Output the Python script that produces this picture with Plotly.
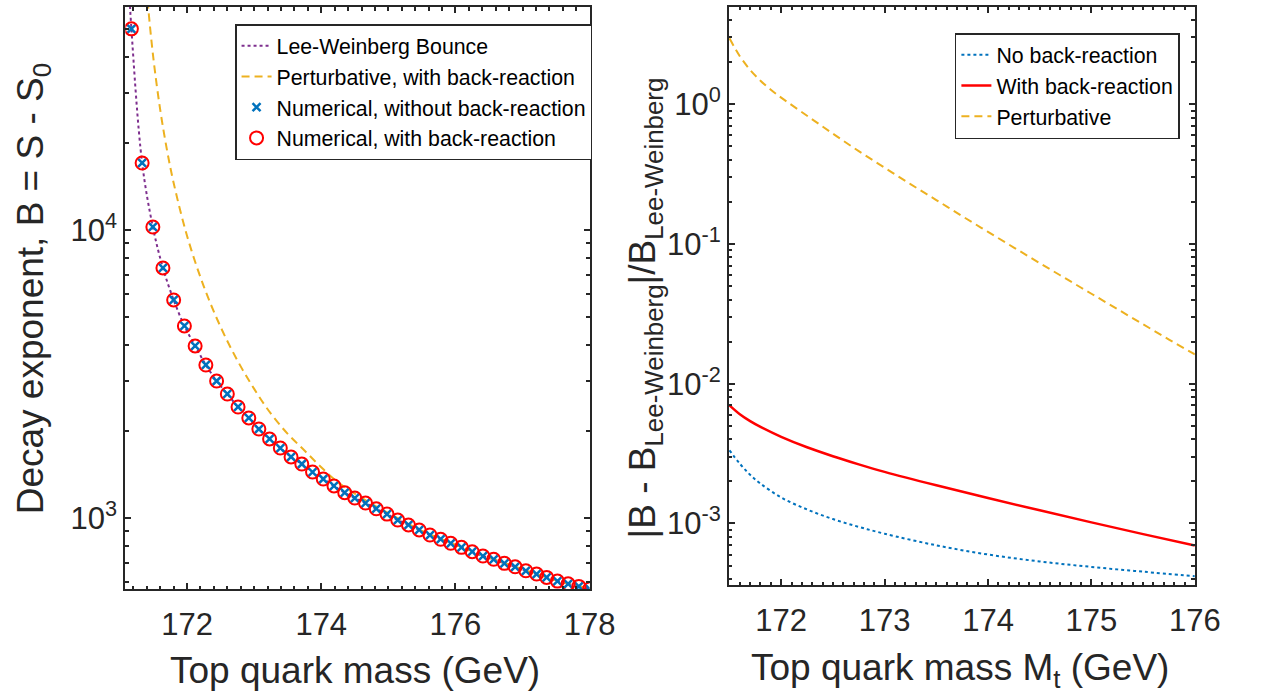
import plotly.graph_objects as go
import math

W, H = 1261, 694
F = "Liberation Sans, Arial, Helvetica, sans-serif"
AX = "#262626"

# ---------------- Left panel data ----------------
mass_num = [171.17, 171.33, 171.49, 171.64, 171.80, 171.96, 172.12, 172.28, 172.44, 172.60,
            172.76, 172.92, 173.07, 173.23, 173.39, 173.55, 173.71, 173.87, 174.03, 174.19,
            174.35, 174.50, 174.66, 174.82, 174.98, 175.14, 175.30, 175.46, 175.62, 175.78,
            175.93, 176.09, 176.25, 176.41, 176.57, 176.73, 176.89, 177.05, 177.21, 177.36,
            177.52, 177.68, 177.84, 178.00]
B_no_br = [49900, 17080, 10240, 7380, 5715, 4642, 3957, 3398, 2990, 2695,
           2429, 2225, 2037, 1881, 1750, 1629, 1540, 1444, 1366, 1292,
           1224, 1173, 1127, 1077, 1032, 984, 946, 909, 873, 844,
           817, 791, 764, 738, 719, 696, 677, 656, 639, 622,
           604, 591, 579, 567]
B_with_br = [49900, 17080, 10240, 7380, 5715, 4642, 3957, 3398, 2990, 2695,
             2429, 2225, 2037, 1881, 1750, 1629, 1540, 1444, 1366, 1292,
             1224, 1173, 1127, 1077, 1032, 984, 946, 909, 873, 844,
             817, 791, 764, 738, 719, 696, 677, 656, 639, 622,
             604, 591, 579, 567]

lw_mass = [171.12] + mass_num
lw_B = [80000] + B_no_br

pert_mass = [171.38, 171.42, 171.50, 171.60, 171.70, 171.80, 172.00, 172.25, 172.50, 172.75,
             173.00, 173.25, 173.50, 173.75, 174.00, 174.25, 174.50, 174.75, 175.00, 175.50,
             176.00, 176.50, 177.00, 177.50, 178.00]
pert_B = [76900, 59300, 39000, 26100, 18970, 14560, 9530, 6360, 4605, 3525,
          2807, 2302, 1960, 1715, 1500, 1330, 1215, 1120, 1040, 903,
          808, 729, 664, 608, 568]

# ---------------- Right panel data ----------------
mt = [171.5, 171.6, 171.7, 171.8, 172.0, 172.25, 172.5, 172.75, 173.0, 173.5,
      174.0, 174.5, 175.0, 175.5, 176.0]
rel_no_br = [3.34e-3, 2.68e-3, 2.23e-3, 1.93e-3, 1.535e-3, 1.26e-3, 1.076e-3, 9.46e-4, 8.45e-4, 6.98e-4,
             6.0e-4, 5.35e-4, 4.89e-4, 4.52e-4, 4.20e-4]
rel_with_br = [7.0e-3, 6.05e-3, 5.40e-3, 4.91e-3, 4.17e-3, 3.51e-3, 3.03e-3, 2.65e-3, 2.34e-3, 1.875e-3,
               1.52e-3, 1.242e-3, 1.019e-3, 8.39e-4, 6.95e-4]
mt_pert = [171.5, 171.6, 171.7, 171.8, 171.9, 172.0, 172.25, 172.5, 172.75, 173.0,
           173.25, 173.5, 173.75, 174.0, 174.25, 174.5, 174.75, 175.0, 175.25, 175.5,
           175.75, 176.0]
rel_pert = [2.958, 2.203, 1.758, 1.472, 1.268, 1.114, 0.826, 0.615, 0.461, 0.351,
            0.268, 0.206, 0.158, 0.122, 0.0942, 0.0729, 0.0566, 0.0440, 0.0342, 0.0266,
            0.0207, 0.0162]

left_xticks = [172, 174, 176, 178]
right_xticks = [172, 173, 174, 175, 176]
left_yticks = [1e3, 1e4]
left_yticktext = ["10<sup>3</sup>", "10<sup>4</sup>"]
right_yticks = [1e-3, 1e-2, 1e-1, 1e0]
right_yticktext = ["10<sup>-3</sup>", "10<sup>-2</sup>", "10<sup>-1</sup>", "10<sup>0</sup>"]

left_yminor = [600, 700, 800, 900] + [k * 1000 for k in range(2, 10)] + [k * 10000 for k in range(2, 7)]
right_yminor = [k * 1e-4 for k in range(4, 10)] + [k * 1e-3 for k in range(2, 10)] + \
               [k * 1e-2 for k in range(2, 10)] + [k * 1e-1 for k in range(2, 10)] + [2, 3, 4]

fig = go.Figure()

fig.add_trace(go.Scatter(x=lw_mass, y=lw_B, mode="lines", name="Lee-Weinberg Bounce",
                         line=dict(color="#7E2F8E", width=2, dash="dot", shape="spline"),
                         xaxis="x", yaxis="y", legend="legend"))
fig.add_trace(go.Scatter(x=pert_mass, y=pert_B, mode="lines", name="Perturbative, with back-reaction",
                         line=dict(color="#EDB120", width=2, dash="8px,5px", shape="spline"),
                         xaxis="x", yaxis="y", legend="legend"))
fig.add_trace(go.Scatter(x=mass_num, y=B_no_br, mode="markers", name="Numerical, without back-reaction",
                         marker=dict(symbol="x-thin", size=8, color="#0072BD",
                                     line=dict(color="#0072BD", width=2.5)),
                         xaxis="x", yaxis="y", legend="legend"))
fig.add_trace(go.Scatter(x=mass_num, y=B_with_br, mode="markers", name="Numerical, with back-reaction",
                         marker=dict(symbol="circle-open", size=13, color="#FF0000",
                                     line=dict(color="#FF0000", width=2)),
                         xaxis="x", yaxis="y", legend="legend"))

fig.add_trace(go.Scatter(x=mt, y=rel_no_br, mode="lines", name="No back-reaction",
                         line=dict(color="#0072BD", width=2, dash="dot", shape="spline"),
                         xaxis="x2", yaxis="y2", legend="legend2"))
fig.add_trace(go.Scatter(x=mt, y=rel_with_br, mode="lines", name="With back-reaction",
                         line=dict(color="#FF0000", width=2.5, shape="spline"),
                         xaxis="x2", yaxis="y2", legend="legend2"))
fig.add_trace(go.Scatter(x=mt_pert, y=rel_pert, mode="lines", name="Perturbative",
                         line=dict(color="#EDB120", width=2, dash="8px,5px", shape="spline"),
                         xaxis="x2", yaxis="y2", legend="legend2"))


def axis(**kw):
    d = dict(showline=True, linecolor=AX, linewidth=2, mirror="ticks", ticks="inside",
             ticklen=6, tickwidth=1.5, tickcolor=AX, showgrid=False, zeroline=False,
             tickfont=dict(family=F, size=31, color=AX))
    d.update(kw)
    return d


def minor_lin(dt, t0):
    return dict(ticks="inside", ticklen=3.5, tickwidth=1.5, tickcolor=AX,
                showgrid=False, dtick=dt, tick0=t0)


def minor_log(vals):
    return dict(ticks="inside", ticklen=3.5, tickwidth=1.5, tickcolor=AX,
                showgrid=False, tickmode="array", tickvals=vals)


fig.update_layout(
    width=W, height=H, autosize=False, margin=dict(l=0, r=0, t=0, b=0),
    paper_bgcolor="white", plot_bgcolor="white",
    font=dict(family=F, color=AX),
    xaxis=axis(domain=[128 / W, 602 / W], range=[171.08, 178], tickmode="array",
               tickvals=left_xticks, minor=minor_lin(0.2, 172), anchor="y",
               ticklabelstandoff=7),
    yaxis=axis(domain=[1 - 589 / H, 1 - 7 / H], type="log",
               range=[math.log10(567), 4.774], tickmode="array",
               tickvals=left_yticks, ticktext=left_yticktext, anchor="x",
               minor=minor_log(left_yminor)),
    xaxis2=axis(domain=[744.3 / W, 1220 / W], range=[171.495, 176], tickmode="array",
                tickvals=right_xticks, minor=minor_lin(0.1, 172), anchor="y2",
                ticklabelstandoff=7),
    yaxis2=axis(domain=[1 - 585 / H, 1 - 6.7 / H], type="log",
                range=[-3.44, 0.697], tickmode="array",
                tickvals=right_yticks, ticktext=right_yticktext, anchor="x2",
                minor=minor_log(right_yminor)),
    legend=dict(x=240 / W, y=1 - 24 / H, xanchor="left", yanchor="top",
                bgcolor="white", bordercolor=AX, borderwidth=1.5,
                font=dict(family=F, size=21.3, color="black"), tracegroupgap=0,
                itemwidth=30),
    legend2=dict(x=975 / W, y=1 - 33 / H, xanchor="left", yanchor="top",
                 bgcolor="white", bordercolor=AX, borderwidth=1.5,
                 font=dict(family=F, size=21.3, color="black"), tracegroupgap=0,
                 itemwidth=30),
    showlegend=True,
)

ann_font = dict(family=F, size=37, color=AX)
fig.add_annotation(text="Top quark mass (GeV)", x=362.5 / W, y=1 - 670 / H, xref="paper", yref="paper",
                   xanchor="center", yanchor="middle", showarrow=False, font=ann_font)
fig.add_annotation(text="Top quark mass M<sub>t</sub> (GeV)", x=980 / W, y=1 - 670 / H,
                   xref="paper", yref="paper", xanchor="center", yanchor="middle",
                   showarrow=False, font=ann_font)
fig.add_annotation(text="Decay exponent, B = S - S<sub>0</sub>", x=34 / W, y=1 - 289 / H,
                   xref="paper", yref="paper", xanchor="center", yanchor="middle",
                   textangle=-90, showarrow=False, font=ann_font)
fig.add_annotation(text="|B - B<sub>Lee-Weinberg</sub>|/B<sub>Lee-Weinberg</sub>", x=659 / W, y=1 - 308 / H,
                   xref="paper", yref="paper", xanchor="center", yanchor="middle",
                   textangle=-90, showarrow=False, font=ann_font)

fig.write_html("out.html", config={"responsive": False},
               post_script="document.body.style.margin='0';document.body.style.overflow='hidden';")
